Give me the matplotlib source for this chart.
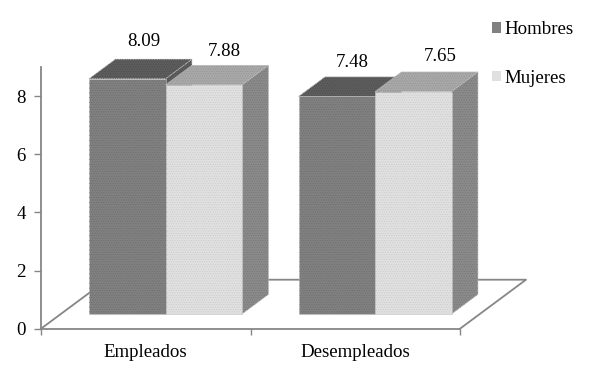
import matplotlib
matplotlib.use('Agg')
import matplotlib.pyplot as plt
from matplotlib.patches import Polygon, Patch

categories = ['Empleados', 'Desempleados']
series_names = ['Hombres', 'Mujeres']
hombres = [8.09, 7.48]
mujeres = [7.88, 7.65]
y_ticks = [0, 2, 4, 6, 8]

plt.rcParams['font.family'] = ['Liberation Serif', 'DejaVu Serif']
plt.rcParams['hatch.linewidth'] = 0.3
font_size = 13.6

W, H = 593, 372
fig = plt.figure(figsize=(W / 100, H / 100), dpi=100)
ax = fig.add_axes([41 / W, 1 - 328.7 / H, 419 / W, 261.7 / H])
ax.set_xlim(0, 2)
ax.set_ylim(0, 9)

# depth of the floor, in data units (66 px across, 49 px up)
depth_x = 66 / 209.5
depth_y = 49 / 29.08
bar_w = 76.5 / 209.5
near, far = 0.3, 0.7
gray = '#868686'


def proj(x, y, d):
    return (x + d * depth_x, y + d * depth_y)


def face(points, color, hatch_color):
    # plain fill first, the stipple goes on top without an outline
    ax.add_patch(Polygon(points, fc=color, ec='#bdbdbd', lw=0.4, clip_on=False, zorder=3))
    ax.add_patch(Polygon(points, fc='none', ec=hatch_color, lw=0, hatch='.......', clip_on=False, zorder=3))


def draw_bar(x, v, front, top, side):
    x2 = x + bar_w
    face([proj(x2, 0, near), proj(x2, 0, far), proj(x2, v, far), proj(x2, v, near)], *side)
    face([proj(x, v, near), proj(x, v, far), proj(x2, v, far), proj(x2, v, near)], *top)
    face([proj(x, 0, near), proj(x2, 0, near), proj(x2, v, near), proj(x, v, near)], *front)


# floor outline
floor = [proj(0, 0, 0), proj(0, 0, 1), proj(2, 0, 1), proj(2, 0, 0)]
ax.plot([p[0] for p in floor], [p[1] for p in floor], color=gray, lw=1.3, clip_on=False, zorder=1)

label_offsets = [[(17, 37), (15.6, 34)], [(20.7, 33), (27, 35)]]
colors = [(('#808080', '#6a6a6a'), ('#5c5c5c', '#4c4c4c'), ('#5c5c5c', '#4c4c4c')),
          (('#e0e0e0', '#c4c4c4'), ('#a8a8a8', '#8e8e8e'), ('#8a8a8a', '#707070'))]

for s, vals in enumerate([hombres, mujeres]):
    for i, v in enumerate(vals):
        x = i + 0.5 - bar_w + s * bar_w
        draw_bar(x, v, *colors[s])
        ax.annotate('%.2f' % v, proj(x + bar_w / 2, v, near),
                    xytext=label_offsets[s][i], textcoords='offset pixels',
                    ha='center', va='center', color='black', fontsize=font_size,
                    annotation_clip=False)

for name in ['top', 'right']:
    ax.spines[name].set_visible(False)
for name in ['left', 'bottom']:
    ax.spines[name].set_color(gray)
    ax.spines[name].set_linewidth(1.3)
    ax.spines[name].set_zorder(2)

ax.set_yticks(y_ticks)
ax.tick_params(axis='y', length=5, width=1.0, color=gray, pad=6, labelsize=font_size)
ax.set_xticks([0, 1, 2])
ax.set_xticklabels([])
ax.tick_params(axis='x', which='major', length=4, width=1.0, color=gray)
ax.set_xticks([0.5, 1.5], minor=True)
ax.set_xticklabels(categories, minor=True)
ax.tick_params(axis='x', which='minor', length=0, pad=11, labelsize=font_size)

handles = [Patch(fc='#808080', ec='none'), Patch(fc='#e0e0e0', ec='none')]
fig.legend(handles, series_names, loc='upper left', bbox_to_anchor=(492 / W, 1 - 21 / H),
           frameon=False, handlelength=0.48, handleheight=0.48, handletextpad=0.2,
           labelspacing=1.67, fontsize=font_size, borderpad=0, borderaxespad=0)

fig.savefig('out.png', dpi=100)
